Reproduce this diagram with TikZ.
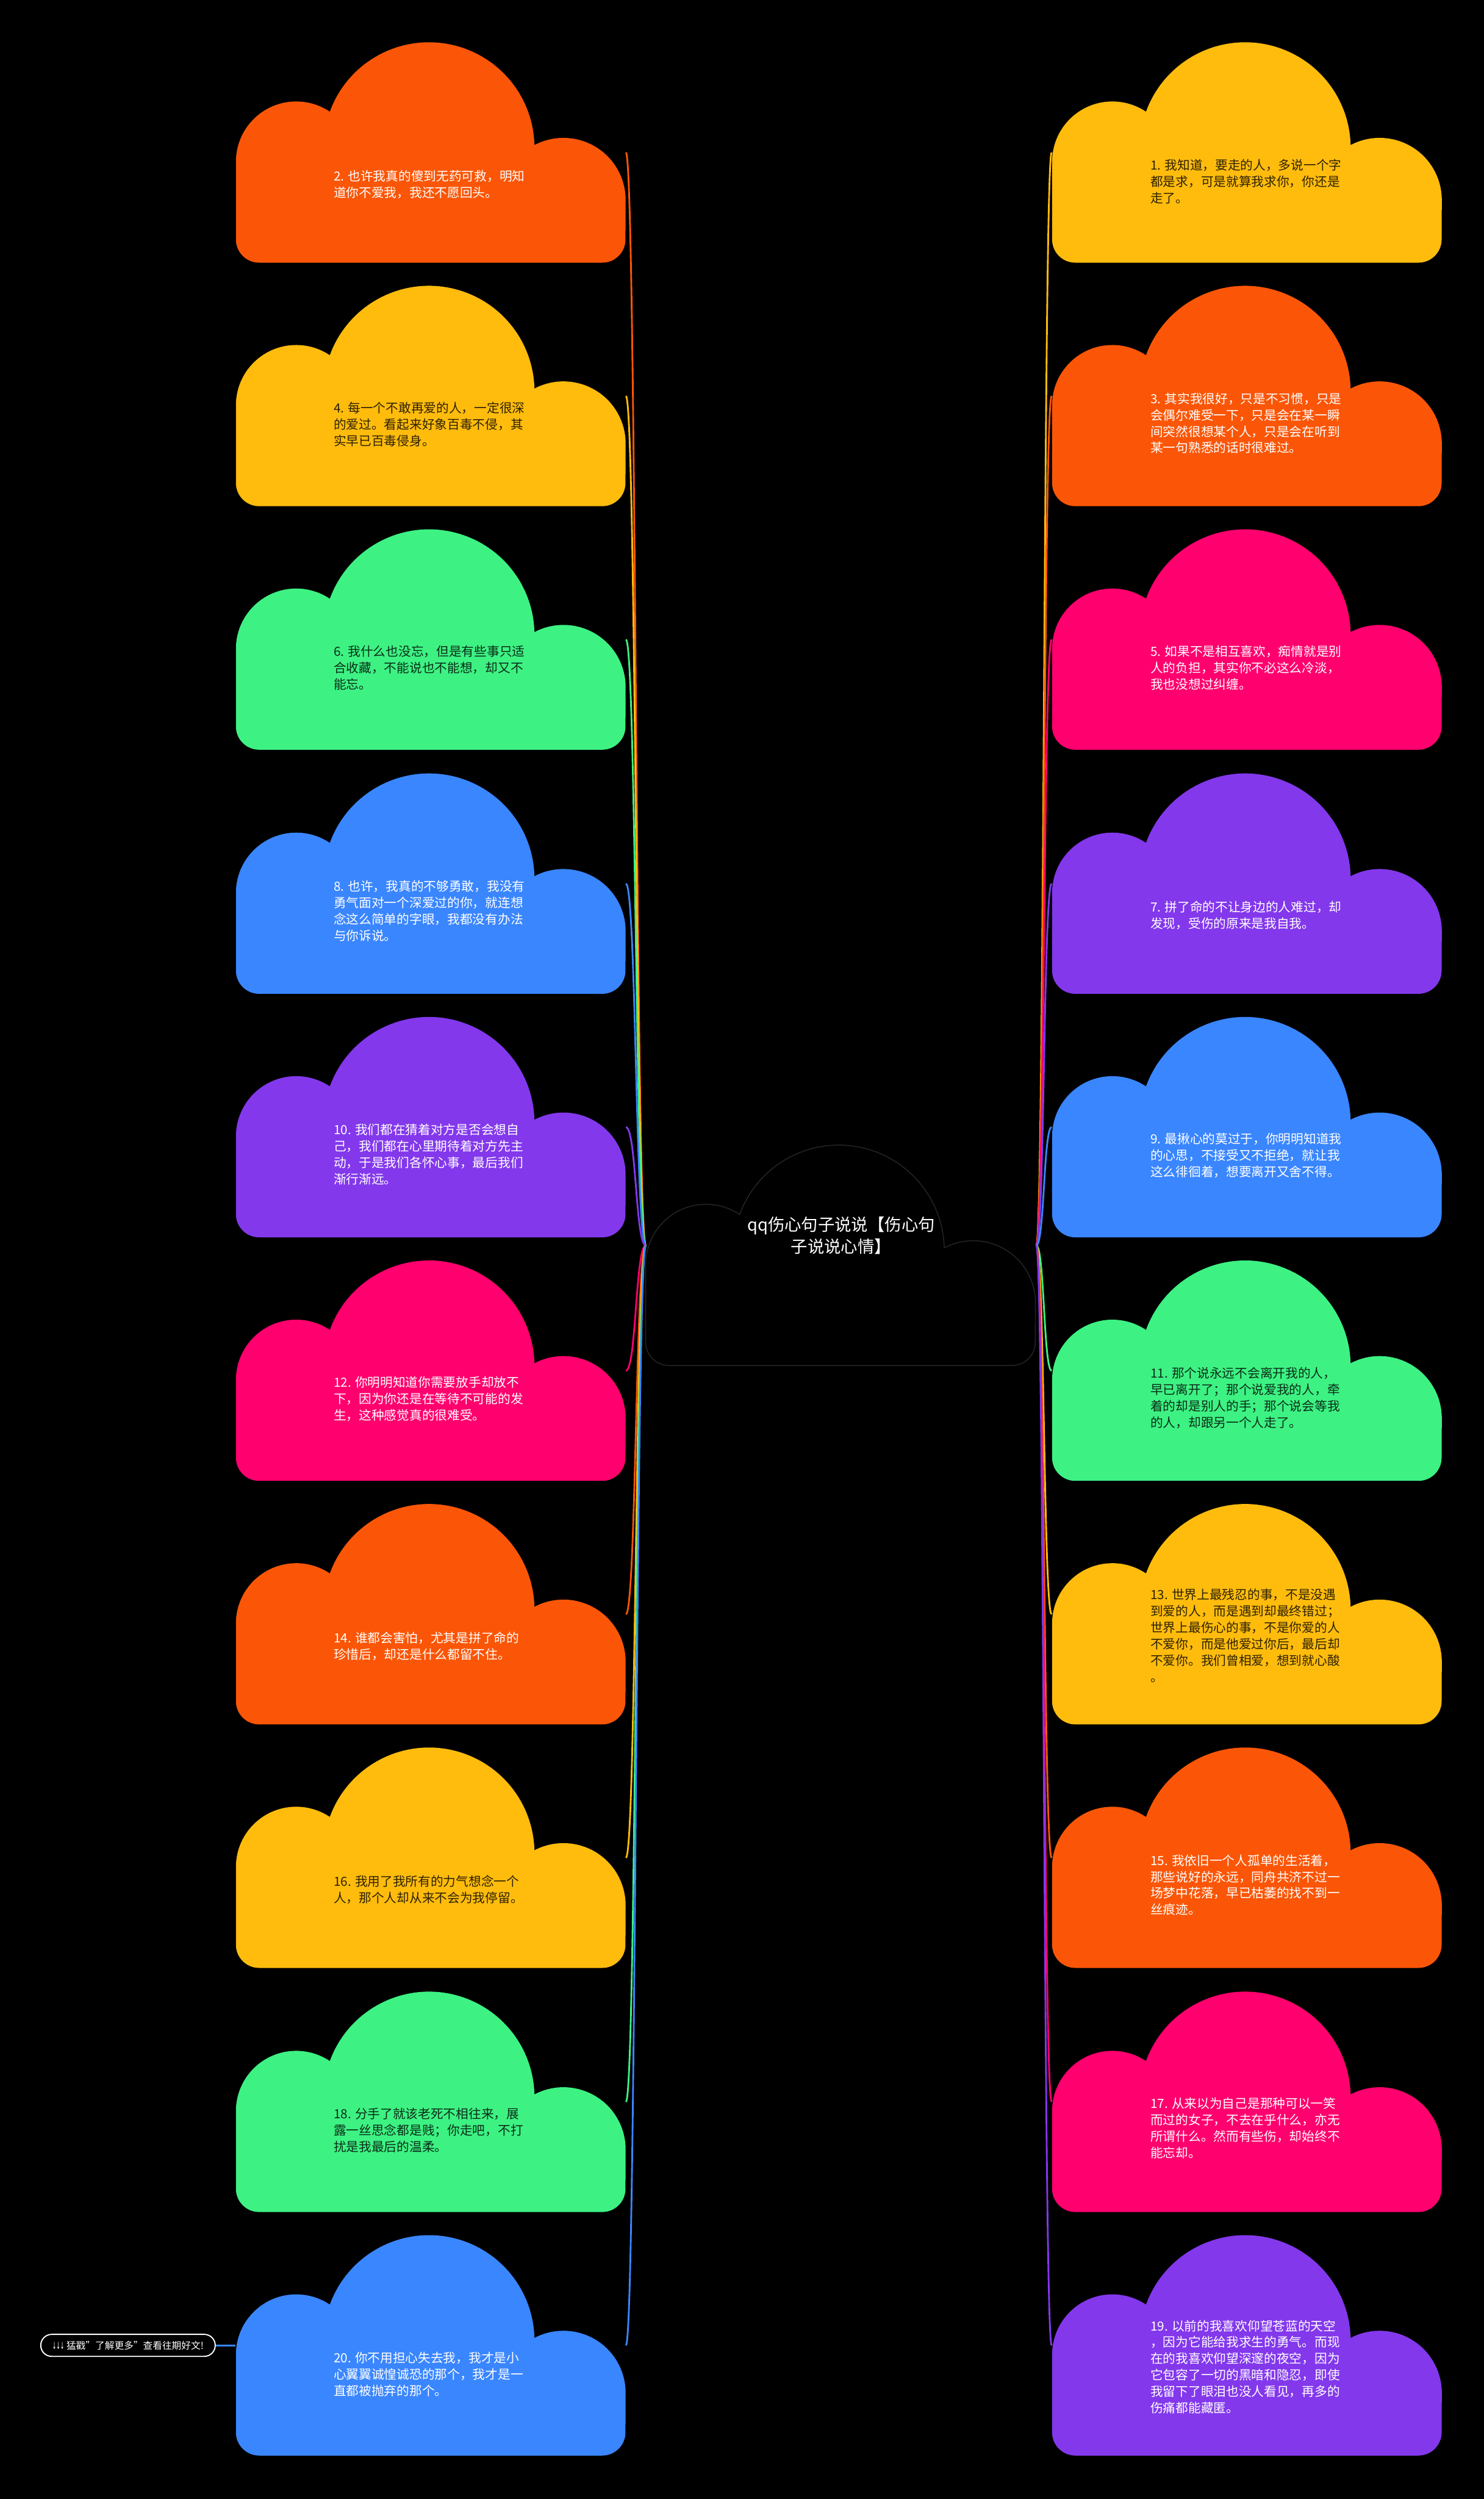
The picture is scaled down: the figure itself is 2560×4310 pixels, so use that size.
\documentclass[tikz,border=0pt]{standalone}
\usepackage{fontspec}
\setmainfont{Noto Sans CJK SC}
\newfontfamily\arrowfont{DejaVu Sans}
\usetikzlibrary{positioning}
\definecolor{cloudOr}{HTML}{FB5607}
\definecolor{cloudYe}{HTML}{FFBC0D}
\definecolor{cloudGr}{HTML}{3DF283}
\definecolor{cloudBl}{HTML}{3A86FF}
\definecolor{cloudPu}{HTML}{8338EC}
\definecolor{cloudPk}{HTML}{FF006E}
\definecolor{rimGray}{HTML}{262626}
\colorlet{cloudYeT}{black!82!cloudYe}
\colorlet{cloudGrT}{black!82!cloudGr}
\tikzset{
  box/.style={minimum width=67.2mm,minimum height=38mm,inner sep=0pt},
  leaf/.style={font=\fontsize{6.2}{8.05}\selectfont,align=left,anchor=west,inner sep=0pt},
  link/.style={line width=0.3mm},
  pill/.style={draw=white,line width=0.2mm,rounded corners=1.9mm,minimum width=30.1mm,minimum height=3.8mm,inner sep=0pt,text=white,font=\fontsize{4.7}{5.5}\selectfont}
}
% cloud outline, #1 = left edge, #2 = top (px, y down)
\newcommand\cloudpath[2]{(#1,-#2-340) -- (#1,-#2-206) arc(180:56.1:104) arc(160:1.5:182) arc(117.8:0:107.3) -- (#1+672,-#2-340) arc(0:-90:40) -- (#1+40,-#2-380) arc(270:180:40) -- cycle}
\begin{document}
\begin{tikzpicture}[x=0.1mm,y=0.1mm]
\fill[black] (0,0) rectangle (2560,-4310);
\useasboundingbox (0,0) rectangle (2560,-4310);
% centre
\node[box] (root) at (1451,-2148) {};
% left column
\foreach \n/\t/\o/\c/\k/\s in {
 2/73/135/cloudOr/white/{2. 也许我真的傻到无药可救，明知\\道你不爱我，我还不愿回头。},
 4/493/141/cloudYe/cloudYeT/{4. 每一个不敢再爱的人，一定很深\\的爱过。看起来好象百毒不侵，其\\实早已百毒侵身。},
 6/913/141/cloudGr/cloudGrT/{6. 我什么也没忘，但是有些事只适\\合收藏，不能说也不能想，却又不\\能忘。},
 8/1334/143/cloudBl/white/{8. 也许，我真的不够勇敢，我没有\\勇气面对一个深爱过的你，就连想\\念这么简单的字眼，我都没有办法\\与你诉说。},
 10/1754/143/cloudPu/white/{10. 我们都在猜着对方是否会想自\\己，我们都在心里期待着对方先主\\动，于是我们各怀心事，最后我们\\渐行渐远。},
 12/2174/141/cloudPk/white/{12. 你明明知道你需要放手却放不\\下，因为你还是在等待不可能的发\\生，这种感觉真的很难受。},
 14/2594/135/cloudOr/white/{14. 谁都会害怕，尤其是拼了命的\\珍惜后，却还是什么都留不住。},
 16/3014/135/cloudYe/cloudYeT/{16. 我用了我所有的力气想念一个\\人，那个人却从来不会为我停留。},
 18/3435/141/cloudGr/cloudGrT/{18. 分手了就该老死不相往来，展\\露一丝思念都是贱；你走吧，不打\\扰是我最后的温柔。},
 20/3855/140/cloudBl/white/{20. 你不用担心失去我，我才是小\\心翼翼诚惶诚恐的那个，我才是一\\直都被抛弃的那个。}}{
  \node[box] (c\n) at (743,-\t-190) {};
  \draw[link,\c] (root.west) .. controls +(-18,0) and +(18,0) .. (c\n.east);
  \fill[\c] \cloudpath{407}{\t};
  \node[leaf,text=\k] (t\n) at (575,-\t-380+\o) {\s};
}
% right column
\foreach \n/\t/\o/\c/\k/\s in {
 1/73/140/cloudYe/cloudYeT/{1. 我知道，要走的人，多说一个字\\都是求，可是就算我求你，你还是\\走了。},
 3/493/143/cloudOr/white/{3. 其实我很好，只是不习惯，只是\\会偶尔难受一下，只是会在某一瞬\\间突然很想某个人，只是会在听到\\某一句熟悉的话时很难过。},
 5/913/141/cloudPk/white/{5. 如果不是相互喜欢，痴情就是别\\人的负担，其实你不必这么冷淡，\\我也没想过纠缠。},
 7/1334/135/cloudPu/white/{7. 拼了命的不让身边的人难过，却\\发现，受伤的原来是我自我。},
 9/1754/141/cloudBl/white/{9. 最揪心的莫过于，你明明知道我\\的心思，不接受又不拒绝，就让我\\这么徘徊着，想要离开又舍不得。},
 11/2174/143/cloudGr/cloudGrT/{11. 那个说永远不会离开我的人，\\早已离开了；那个说爱我的人，牵\\着的却是别人的手；那个说会等我\\的人，却跟另一个人走了。},
 13/2594/153/cloudYe/cloudYeT/{13. 世界上最残忍的事，不是没遇\\到爱的人，而是遇到却最终错过；\\世界上最伤心的事，不是你爱的人\\不爱你，而是他爱过你后，最后却\\不爱你。我们曾相爱，想到就心酸\\。},
 15/3014/143/cloudOr/white/{15. 我依旧一个人孤单的生活着，\\那些说好的永远，同舟共济不过一\\场梦中花落，早已枯萎的找不到一\\丝痕迹。},
 17/3435/145/cloudPk/white/{17. 从来以为自己是那种可以一笑\\而过的女子，不去在乎什么，亦无\\所谓什么。然而有些伤，却始终不\\能忘却。},
 19/3855/153/cloudPu/white/{19. 以前的我喜欢仰望苍蓝的天空\\，因为它能给我求生的勇气。而现\\在的我喜欢仰望深邃的夜空，因为\\它包容了一切的黑暗和隐忍，即使\\我留下了眼泪也没人看见，再多的\\伤痛都能藏匿。}}{
  \node[box] (c\n) at (2151,-\t-190) {};
  \draw[link,\c] (root.east) .. controls +(14,0) and +(-14,0) .. (c\n.west);
  \fill[\c] \cloudpath{1815}{\t};
  \node[leaf,text=\k] (t\n) at (1984,-\t-380+\o) {\s};
}
\filldraw[fill=black,draw=rimGray,line width=0.15mm] \cloudpath{1114}{1975};
\node[font=\fontsize{8.2}{10.9}\selectfont,align=center,text=white] (title) at (1451,-2131) {qq伤心句子说说【伤心句\\子说说心情】};
% link to more
\node[pill,left=3.4mm of c20] (more) {{\arrowfont\scalebox{0.5}[1]{↓↓↓}} 猛戳"了解更多"查看往期好文!};
\draw[link,cloudBl] (more) -- (c20);
\end{tikzpicture}
\end{document}
